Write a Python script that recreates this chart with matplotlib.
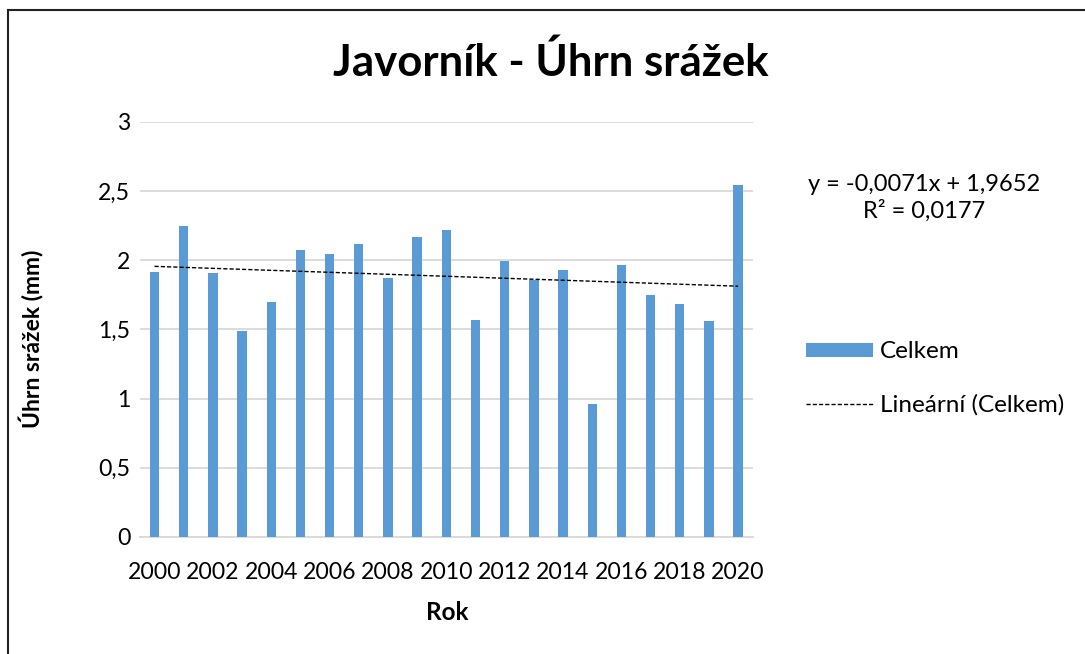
import numpy as np
import matplotlib
matplotlib.use("Agg")
import matplotlib.pyplot as plt
from matplotlib.lines import Line2D
from matplotlib.patches import Patch

plt.rcParams["font.family"] = ["Lato", "DejaVu Sans"]

# precipitation per year
years = list(range(2000, 2021))
celkem = [1.915, 2.251, 1.911, 1.486, 1.696, 2.075, 2.048, 2.121, 1.874, 2.169,
          2.222, 1.565, 1.995, 1.860, 1.928, 0.961, 1.964, 1.746, 1.681, 1.563, 2.543]
y_ticks = [0, 0.5, 1, 1.5, 2, 2.5, 3]
y_ticklabels = ["0", "0,5", "1", "1,5", "2", "2,5", "3"]
eq_text = "y = -0,0071x + 1,9652\nR² = 0,0177"

bar_color = "#5b9bd5"
grid_color = "#d9d9d9"

fig = plt.figure(figsize=(10.85, 6.54), dpi=100)
ax = fig.add_axes([0.129, 0.179, 0.5647, 0.6345])

pos = np.arange(len(years))
ax.bar(pos, celkem, width=0.32, color=bar_color, zorder=3)

# linear trend like Excel's (x = 1..n)
k, q = np.polyfit(pos + 1, celkem, 1)
ax.plot(pos, k * (pos + 1) + q, color="black", lw=1.0, ls=(0, (3, 1.5)), zorder=4)

ax.set_xlim(-0.5, len(years) - 0.5)
ax.set_ylim(0, 3)
ax.set_yticks(y_ticks)
ax.set_yticklabels(y_ticklabels)
ax.set_xticks(pos[::2])
ax.set_xticklabels([str(y) for y in years[::2]])
ax.tick_params(length=0, labelsize=16.6, colors="#000000")
ax.tick_params(axis="x", pad=18)
ax.tick_params(axis="y", pad=7)
ax.grid(axis="y", color=grid_color, lw=1.3, zorder=0)
for s in ["top", "right", "left"]:
    ax.spines[s].set_visible(False)
ax.spines["bottom"].set_color(grid_color)
ax.spines["bottom"].set_linewidth(1.3)

fig.text(0.508, 0.905, "Javorník - Úhrn srážek", ha="center", va="center",
         fontsize=31.5, fontweight="bold")
fig.text(0.412, 0.064, "Rok", ha="center", va="center", fontsize=17.5, fontweight="bold")
fig.text(0.029, 0.482, "Úhrn srážek (mm)", ha="center", va="center", rotation=90,
         fontsize=16.5, fontweight="bold")
fig.text(0.852, 0.697, eq_text, ha="center", va="center", fontsize=17, linespacing=1.25)

handles = [Patch(facecolor=bar_color, edgecolor="none"),
           Line2D([], [], color="black", lw=1.0, ls=(0, (3, 1.5)))]
fig.legend(handles, ["Celkem", "Lineární (Celkem)"], loc="upper left",
           bbox_to_anchor=(0.743, 0.478), frameon=False, fontsize=17.5,
           handlelength=2.75, handleheight=0.5, handletextpad=0.3,
           labelspacing=1.3, borderpad=0, borderaxespad=0)

# outer chart frame (only left and top edge visible in the reference)
fig.add_artist(Line2D([0.0074, 0.0074], [0, 0.985], color="#222222", lw=1.5,
                      transform=fig.transFigure))
fig.add_artist(Line2D([0.0074, 1.0], [0.985, 0.985], color="#222222", lw=1.5,
                      transform=fig.transFigure))

fig.savefig("out.png", dpi=100)
